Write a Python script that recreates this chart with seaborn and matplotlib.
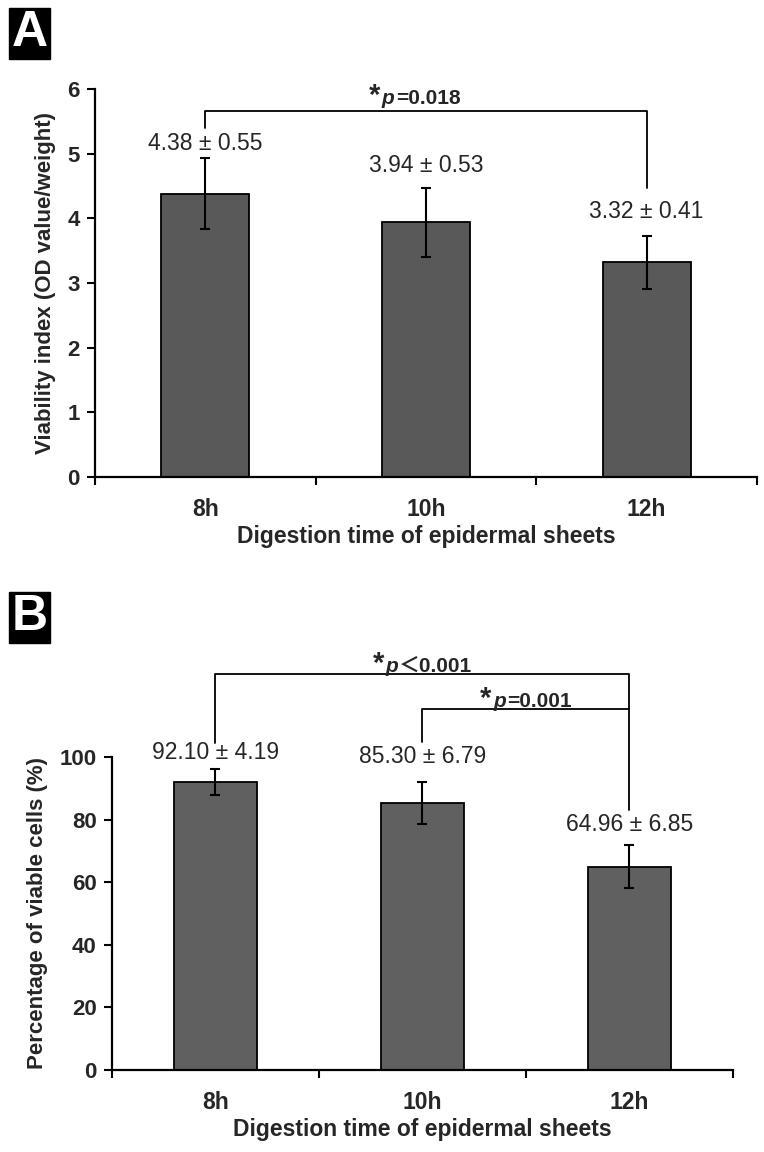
"""Viability of epidermal sheets vs digestion time (panels A and B)."""

import matplotlib as mpl
import matplotlib.pyplot as plt
import seaborn as sns
from matplotlib.offsetbox import AnnotationBbox, HPacker, TextArea

categories = ["8h", "10h", "12h"]

# panel A: viability index
viab_mean = [4.38, 3.94, 3.32]
viab_sd = [0.55, 0.53, 0.41]

# panel B: percentage of viable cells
pct_mean = [92.10, 85.30, 64.96]
pct_sd = [4.19, 6.79, 6.85]

xlabel = "Digestion time of epidermal sheets"
ylabel_a = "Viability index (OD value/weight)"
ylabel_b = "Percentage of viable cells (%)"

sns.set_theme(style="white")
mpl.rcParams["font.family"] = ["Liberation Sans", "Noto Sans CJK SC", "DejaVu Sans"]

fig = plt.figure(figsize=(7.64, 11.52), dpi=100)
ax_a = fig.add_axes([0.1243, 0.5859, 0.8665, 0.3368])
ax_b = fig.add_axes([0.1466, 0.0712, 0.8128, 0.2717])


def draw_panel(ax, means, sds, ymax, yticks, ylabel, bar_color):
    sns.barplot(x=categories, y=means, color=bar_color, saturation=1,
                width=0.4, edgecolor="black", linewidth=1.3, ax=ax)
    ax.errorbar(range(len(means)), means, yerr=sds, fmt="none",
                ecolor="black", elinewidth=1.5, capsize=3.5, capthick=1.5)
    ax.set_xlim(-0.5, len(means) - 0.5)
    ax.set_ylim(0, ymax)
    ax.set_yticks(yticks)
    ax.set_yticklabels([str(t) for t in yticks], fontsize=16, fontweight="bold")
    ax.set_xticks(range(len(means)))
    ax.set_xticklabels(categories, fontsize=16.5, fontweight="bold")
    ax.set_xticks([i - 0.5 for i in range(len(means) + 1)], minor=True)
    ax.tick_params(axis="x", which="major", length=0, pad=15)
    ax.tick_params(axis="x", which="minor", length=6, width=1.5,
                   direction="out", color="black", bottom=True)
    ax.tick_params(axis="y", length=6, width=1.5, direction="out",
                   color="black", left=True, pad=5)
    for side in ["top", "right"]:
        ax.spines[side].set_visible(False)
    for side in ["left", "bottom"]:
        ax.spines[side].set_color("black")
        ax.spines[side].set_linewidth(1.6)
    ax.set_xlabel(xlabel, fontsize=16.5, fontweight="bold", labelpad=3)
    ax.set_ylabel(ylabel, fontsize=16, fontweight="bold", labelpad=8)


def bracket(ax, x0, x1, y, y0, y1):
    ax.plot([x0, x0, x1, x1], [y0, y, y, y1], color="black",
            linewidth=1.3, clip_on=False)


def pvalue(ax, x, y, txt):
    parts = [
        TextArea("*", textprops=dict(fontsize=21, fontweight="bold")),
        TextArea("p", textprops=dict(fontsize=15, fontstyle="italic", fontweight="bold")),
        TextArea(txt, textprops=dict(fontsize=15, fontweight="bold")),
    ]
    box = HPacker(children=parts, align="baseline", pad=0, sep=1)
    ab = AnnotationBbox(box, (x, y), frameon=False, box_alignment=(0.5, 0.5),
                        annotation_clip=False, pad=0)
    ax.add_artist(ab)


# ---- panel A
draw_panel(ax_a, viab_mean, viab_sd, 6, [0, 1, 2, 3, 4, 5, 6], ylabel_a, "#595959")
label_y_a = [5.16, 4.82, 4.10]
for i, (m, s) in enumerate(zip(viab_mean, viab_sd)):
    ax_a.text(i, label_y_a[i], f"{m:.2f} ± {s:.2f}", ha="center", va="center",
              fontsize=16.5)
bracket(ax_a, 0, 2, 5.66, 5.39, 4.47)
pvalue(ax_a, 0.95, 5.90, "=0.018")

# ---- panel B
draw_panel(ax_b, pct_mean, pct_sd, 100, [0, 20, 40, 60, 80, 100], ylabel_b, "#606060")
label_y_b = [101.3, 100.0, 78.3]
for i, (m, s) in enumerate(zip(pct_mean, pct_sd)):
    ax_b.text(i, label_y_b[i], f"{m:.2f} ± {s:.2f}", ha="center", va="center",
              fontsize=16.5)
bracket(ax_b, 0, 2, 126.5, 104.5, 83.1)
bracket(ax_b, 1, 2, 115.3, 104.8, 115.3)
pvalue(ax_b, 1, 129.8, "＜0.001")
pvalue(ax_b, 1.5, 118.6, "=0.001")

# panel letters
for letter, ypos in [("A", 0.9710), ("B", 0.4640)]:
    fig.text(0.0385, ypos, letter, color="white", fontsize=36, fontweight="bold",
             ha="center", va="center",
             bbox=dict(boxstyle="square,pad=0.05", facecolor="black", edgecolor="black"))

fig.savefig("out.png", dpi=100, facecolor="white")
